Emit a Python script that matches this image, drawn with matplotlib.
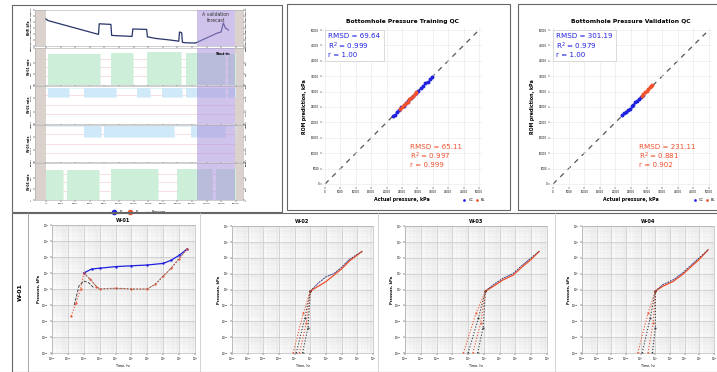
import numpy as np
import matplotlib
matplotlib.use("Agg")
import matplotlib.pyplot as plt
from matplotlib.patches import Rectangle
from matplotlib.ticker import NullFormatter

W, H = 717, 372

# ---- top-left: history panel data (time in hours) ----
t_bhp = [0, 300, 2000, 4000, 6000, 7200, 7300, 8900, 9000, 10000, 11800, 11900, 13800, 13900,
         15000, 17000, 18200, 18300, 18600, 18700, 19200, 20500, 22000, 23500, 24000, 24300, 24600, 25000]
p_bhp = [33500, 32700, 31000, 29000, 27000, 25800, 31100, 30800, 25300, 25100, 24800, 28500, 28300, 24600,
         23800, 23000, 22400, 27000, 26600, 21800, 21600, 21500, 24000, 26500, 27000, 31500, 29000, 28000]

w01_t = [0, 300, 7400, 8900, 11900, 13900, 18500, 19200, 24500, 25000, 26000]
w01_q = [0, 850, 0, 870, 0, 880, 0, 860, 0, 850, 850]
w02_t = [0, 300, 3200, 5200, 9600, 12500, 14300, 15900, 18700, 19200, 24500, 25000, 26000]
w02_q = [0, -600, 0, -620, 0, -600, 0, -610, 0, -600, 0, -600, -600]
w03_t = [0, 5200, 7600, 8000, 17600, 19900, 24000, 24500, 26000]
w03_q = [0, -700, 0, -720, 0, -700, -700, 0, -700]
w04_t = [0, 2300, 2900, 7300, 8900, 15300, 17900, 22700, 23300, 26000]
w04_q = [800, 0, 820, 0, 850, 0, 830, 0, 830, 830]
hist_ticks = list(range(0, 28000, 2000))
valid_start, valid_end = 20700, 25900

# ---- top-middle / top-right: QC scatter data (kPa) ----
tr_cc_act = [22000, 22600, 23300, 24000, 24800, 25500, 26300, 27100, 27900, 28700, 29500, 30300,
             31100, 31900, 32600, 33300, 34000, 34700]
tr_cc_pred = [22100, 22500, 23400, 23900, 24900, 25400, 26400, 27000, 28000, 28600, 29600, 30200,
              31200, 31800, 32700, 33200, 34100, 34900]
tr_bl_act = [24400, 25000, 25600, 26200, 26800, 27400, 28000, 28600, 29200, 29700]
tr_bl_pred = [24300, 25100, 25500, 26300, 26700, 27500, 27900, 28700, 29100, 29800]
val_cc_act = [22200, 22800, 23400, 24000, 24600, 25200, 25800, 26400, 27000, 27600, 28200, 28700]
val_cc_pred = [22300, 22900, 23300, 24100, 24500, 25300, 25700, 26500, 26900, 27700, 28100, 28800]
val_bl_act = [28500, 29000, 29500, 30000, 30500, 31000, 31500, 31800]
val_bl_pred = [28700, 29300, 29800, 30300, 30800, 31400, 31900, 32200]
tr_stats_cc = ["RMSD = 69.64", "R$^2$ = 0.999", "r = 1.00"]
tr_stats_bl = ["RMSD = 65.11", "R$^2$ = 0.997", "r = 0.999"]
val_stats_cc = ["RMSD = 301.19", "R$^2$ = 0.979", "r = 1.00"]
val_stats_bl = ["RMSD = 231.11", "R$^2$ = 0.881", "r = 0.902"]

# ---- bottom: log-log pressure curves (log10 time, log10 pressure) ----
w01_rise_x = [-2.8, -2.5, -2.2, -2.0]
w01_rise_y = [-1.7, -0.9, 0.0, 1.0]
w01_cc_x = [-2.0, -1.5, -1.0, 0.0, 1.0, 2.0, 3.0, 3.5, 4.0, 4.5]
w01_cc_y = [1.0, 1.25, 1.3, 1.4, 1.45, 1.5, 1.6, 1.8, 2.1, 2.5]
w01_bl_x = [-2.0, -1.6, -1.2, -1.0, 0.0, 1.0, 2.0, 2.5, 3.0, 3.5, 4.0, 4.5]
w01_bl_y = [1.0, 0.6, 0.15, 0.0, 0.05, 0.0, 0.0, 0.3, 0.8, 1.3, 1.9, 2.5]
w01_ref_x = [-2.6, -2.3, -2.0, -1.7, -1.4]
w01_ref_y = [-1.0, 0.2, 0.5, 0.4, 0.1]

late_x = {"W-02": [1.0, 1.5, 2.0, 2.5, 3.0, 3.5, 4.3],
          "W-03": [1.1, 1.6, 2.2, 2.85, 3.4, 4.0, 4.5],
          "W-04": [1.0, 1.5, 2.2, 2.8, 3.4, 4.0, 4.6]}
late_cc_y = {"W-02": [-0.1, 0.4, 0.8, 1.0, 1.4, 1.9, 2.4],
             "W-03": [-0.1, 0.3, 0.7, 1.0, 1.5, 2.0, 2.4],
             "W-04": [-0.1, 0.3, 0.6, 1.0, 1.5, 2.0, 2.5]}
late_bl_y = {"W-02": [-0.1, 0.2, 0.5, 0.9, 1.3, 1.8, 2.4],
             "W-03": [-0.1, 0.2, 0.6, 0.9, 1.4, 1.9, 2.4],
             "W-04": [-0.1, 0.2, 0.5, 0.9, 1.4, 1.9, 2.5]}
early_start = {"W-02": [-0.1, 0.1, 0.3, 0.5],
               "W-03": [-0.3, 0.0, 0.3, 0.6],
               "W-04": [-0.2, 0.1, 0.5, 0.8]}

GREEN = "#cdeed8"
BLUE = "#cfe9f8"
PURPLE = "#a992dc"
GRAYBAND = "#d8cec8"
CC = "#2020e0"
BL = "#f0502c"


def px(x0, y0, x1, y1):
    return [x0 / W, 1 - y1 / H, (x1 - x0) / W, (y1 - y0) / H]


def frame(fig, x0, y0, x1, y1, lw=0.8, ec="#666666"):
    fig.add_artist(Rectangle((x0 / W, 1 - y1 / H), (x1 - x0) / W, (y1 - y0) / H,
                             transform=fig.transFigure, fill=False, lw=lw, ec=ec))


def vline(fig, x, y0, y1, lw=0.6, c="#999999"):
    fig.add_artist(plt.Line2D([x / W, x / W], [1 - y0 / H, 1 - y1 / H],
                              transform=fig.transFigure, lw=lw, color=c))


def tiny(ax, size=2.2):
    ax.tick_params(labelsize=size, length=1.2, width=0.3, pad=0.8)
    for s in ax.spines.values():
        s.set_linewidth(0.4)
        s.set_color("#aaaaaa")


fig = plt.figure(figsize=(W / 100, H / 100), dpi=100)
fig.patch.set_facecolor("white")

# ================= history panel =================
frame(fig, 12, 5, 282, 212)
x_lo, x_hi = -1500, 27000

ax0 = fig.add_axes(px(35, 10, 243, 46))
ax0.plot(t_bhp, p_bhp, color="#27356a", lw=0.9)
ax0.set_ylim(20000, 38000)
ax0.set_yticks(range(20000, 38001, 3000))
ax0.set_ylabel("BHP, kPa", fontsize=2.2, labelpad=0.5, fontweight="bold")
ax0.text((valid_start + valid_end) / 2, 37000, "A validation\nforecast", fontsize=3.3,
         ha="center", va="top", color="#333333", zorder=6)

strips = [("W-01", w01_t, w01_q, GREEN, (0, 950), (48, 85)),
          ("W-02", w02_t, w02_q, BLUE, (-2400, 100), (86, 124)),
          ("W-03", w03_t, w03_q, BLUE, (-2400, 100), (125, 162)),
          ("W-04", w04_t, w04_q, GREEN, (0, 950), (163, 200))]
hist_axes = [ax0]
for name, tt, qq, col, ylim, (ya, yb) in strips:
    ax = fig.add_axes(px(35, ya, 243, yb))
    ax.fill_between(tt, qq, 0, step="post", color=col, lw=0)
    ax.step(tt, qq, where="post", color=col, lw=0.4)
    ax.set_ylim(*ylim)
    ax.set_yticks(np.linspace(ylim[0], ylim[1], 4).round(-2))
    for yv in np.linspace(ylim[0], ylim[1], 5)[1:-1]:
        ax.axhline(yv, color="#f2c4cc", lw=0.4, zorder=0)
    ax.set_ylabel(name + " rate", fontsize=2.2, labelpad=0.5, fontweight="bold")
    hist_axes.append(ax)

for i, ax in enumerate(hist_axes):
    ax.set_xlim(x_lo, x_hi)
    ax.axvspan(x_lo, 0, color=GRAYBAND, alpha=0.9, lw=0, zorder=0.5)
    ax.axvspan(valid_end, x_hi, color=GRAYBAND, alpha=0.9, lw=0, zorder=0.5)
    ax.axvspan(valid_start, valid_end, color=PURPLE, alpha=0.55, lw=0, zorder=3)
    ax.set_xticks(hist_ticks)
    ax.tick_params(right=True, labelright=True)
    for lab in ax.get_yticklabels():
        lab.set_rotation(90)
        lab.set_va("center")
    tiny(ax, 1.7)
    if i < len(hist_axes) - 1:
        ax.set_xticklabels([])
hist_axes[1].text(24200, 880, "Shut-in", fontsize=2.6, fontweight="bold", ha="center",
                  va="top", zorder=5)
hist_axes[-1].plot([], [], color=CC, marker=".", ls="", label="P$_{wf}$")
hist_axes[-1].plot([], [], color=BL, marker=".", ls="", label="P$_{wf}$")
hist_axes[-1].plot([], [], color="#27356a", lw=0.8, label="Pressure")
hist_axes[-1].legend(loc="upper center", bbox_to_anchor=(0.5, -0.14), ncol=3, fontsize=2.4,
                     frameon=False, handlelength=1.2, columnspacing=0.8)


# ================= QC scatter panels =================
def qc_panel(box, axbox, title, cc_a, cc_p, bl_a, bl_p, st_cc, st_bl):
    frame(fig, *box)
    ax = fig.add_axes(px(*axbox))
    ax.plot([0, 50000], [0, 50000], ls=(0, (4, 4)), color="#555555", lw=0.9, zorder=1)
    ax.plot(cc_a, cc_p, ls="", marker="o", ms=2.8, color=CC, mec="none", label="CC", zorder=3)
    ax.plot(bl_a, bl_p, ls="", marker="o", ms=2.8, color=BL, mec="none", label="BL", zorder=4)
    ax.set_xlim(-1000, 51000)
    ax.set_ylim(-1000, 51000)
    ax.set_xticks(range(0, 50001, 5000))
    ax.set_yticks(range(0, 50001, 5000))
    ax.grid(True, color="#e6e6e6", lw=0.4)
    ax.set_title(title, fontsize=4.3, fontweight="bold", pad=3)
    ax.set_xlabel("Actual pressure, kPa", fontsize=3.4, fontweight="bold", labelpad=2)
    ax.set_ylabel("ROM prediction, kPa", fontsize=3.4, fontweight="bold", labelpad=3)
    tiny(ax, 1.9)
    for s in ax.spines.values():
        s.set_visible(False)
    ax.text(0.04, 0.96, "\n".join(st_cc), transform=ax.transAxes, fontsize=5.1, color=CC,
            va="top", ha="left", linespacing=1.1,
            bbox=dict(boxstyle="square,pad=0.45", fc="white", ec="#cccccc", lw=0.5))
    ax.text(0.55, 0.27, "\n".join(st_bl), transform=ax.transAxes, fontsize=5.1, color=BL,
            va="top", ha="left", linespacing=1.1)
    ax.legend(loc="upper right", bbox_to_anchor=(1.04, -0.05), ncol=2, fontsize=2.6,
              frameon=False, handlelength=0.6, columnspacing=0.6, markerscale=0.7)


qc_panel((287, 4, 510, 210), (322, 27, 482, 187), "Bottomhole Pressure Training QC",
         tr_cc_act, tr_cc_pred, tr_bl_act, tr_bl_pred, tr_stats_cc, tr_stats_bl)
qc_panel((518, 4, 720, 210), (550, 27, 712, 187), "Bottomhole Pressure Validation QC",
         val_cc_act, val_cc_pred, val_bl_act, val_bl_pred, val_stats_cc, val_stats_bl)

# ================= bottom log-log panels =================
frame(fig, 12, 213, 720, 372)
vline(fig, 28, 213, 372)
for xs in (200, 378, 555):
    vline(fig, xs, 213, 372, c="#cccccc")
fig.text(20 / W, 1 - 292 / H, "W-01", rotation=90, fontsize=4.5, fontweight="bold",
         ha="center", va="center")

boxes = {"W-01": (52, 225, 195, 353), "W-02": (232, 226, 373, 353),
         "W-03": (405, 226, 547, 353), "W-04": (582, 226, 714, 353)}


def pw(v):
    return [10.0 ** a for a in v]


for name, b in boxes.items():
    ax = fig.add_axes(px(*b))
    ax.set_xscale("log")
    ax.set_yscale("log")
    ax.set_xlim(1e-4, 1e5)
    ax.set_ylim(1e-4, 1e4)
    ax.xaxis.set_minor_formatter(NullFormatter())
    ax.yaxis.set_minor_formatter(NullFormatter())
    ax.grid(True, which="major", color="#b0b0b0", lw=0.4)
    ax.grid(True, which="minor", color="#e2e2e2", lw=0.3)
    ax.set_facecolor("#fafafa")
    if name == "W-01":
        ax.plot(pw(w01_rise_x), pw(w01_rise_y), color=BL, ls=":", lw=0.8, marker=".", ms=1.2)
        ax.plot(pw(w01_ref_x), pw(w01_ref_y), color="#333333", ls="--", lw=0.6)
        ax.plot(pw(w01_cc_x), pw(w01_cc_y), color=CC, lw=0.9, marker=".", ms=1.5)
        ax.plot(pw(w01_bl_x), pw(w01_bl_y), color=BL, ls=":", lw=0.9, marker=".", ms=1.2)
        ax.plot(pw(w01_bl_x), pw(w01_bl_y), color="#555555", ls="--", lw=0.4)
    else:
        jx, jy = late_x[name][0], late_cc_y[name][0]
        for k, sx in enumerate(early_start[name]):
            xs = [sx, (sx + jx) / 2 + 0.1, jx]
            ys = [-4.0, -1.5 - 0.3 * k, jy]
            ax.plot(pw(xs), pw(ys), color="#333333" if k % 2 else BL, ls=":", lw=0.8,
                    marker=".", ms=1.0)
        ax.plot(pw(late_x[name]), pw(late_cc_y[name]), color=CC, lw=0.7, ls=":")
        ax.plot(pw(late_x[name]), pw(late_bl_y[name]), color=BL, lw=0.9)
        ax.plot(pw(late_x[name]), pw(late_cc_y[name]), color="#333333", lw=0.4, ls="--")
    ax.set_title(name, fontsize=3.6, fontweight="bold", pad=2)
    ax.set_xlabel("Time, hr", fontsize=2.4, labelpad=0.2)
    ax.set_ylabel("Pressure, kPa", fontsize=2.6, labelpad=0.5, fontweight="bold")
    tiny(ax, 1.9)
    ax.tick_params(which="minor", length=0)

fig.savefig("out.png", dpi=100)
